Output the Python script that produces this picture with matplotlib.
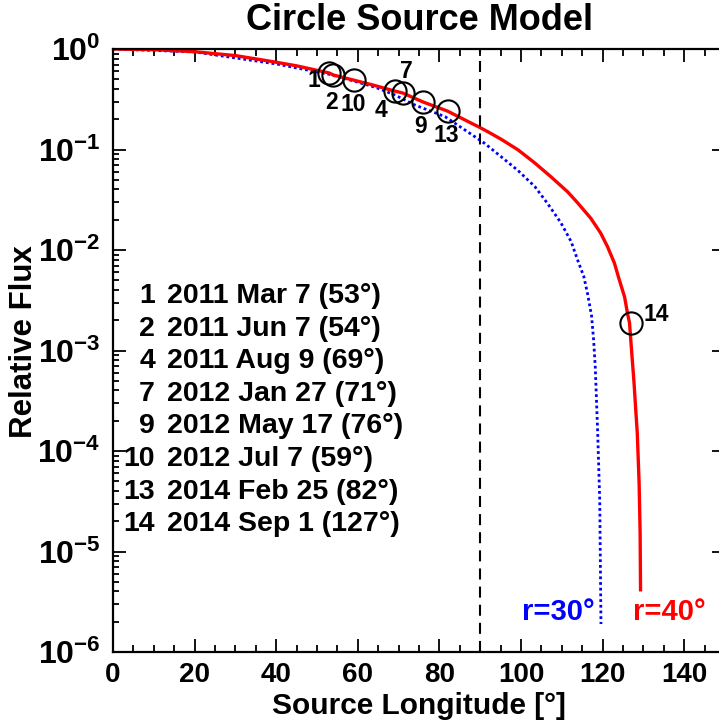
import math
import matplotlib
matplotlib.use("Agg")
import matplotlib.pyplot as plt
from matplotlib.ticker import MultipleLocator, FixedLocator, FuncFormatter, NullFormatter

# ---------------- data ----------------
red_lon = [0, 10, 20, 30, 39, 45, 53, 54, 59, 64, 69, 71, 76, 82, 87.1, 89.5, 91.9,
           95.2, 99.3, 103.3, 107.3, 111.4, 113.9, 117.1, 119.5, 121.2, 122.9, 124.0,
           125.4, 126.1, 126.6, 127.15, 127.7, 128.1, 128.5, 128.95, 129.2, 129.3]
red_flux = [1.0, 0.985, 0.94, 0.86, 0.75, 0.68, 0.577, 0.551, 0.49, 0.435, 0.382,
            0.365, 0.297, 0.241, 0.189, 0.169, 0.150, 0.126, 0.099, 0.0739, 0.0537,
            0.038, 0.0294, 0.0207, 0.0148, 0.0108, 0.0074, 0.0052, 0.0034, 0.00234,
            0.00188, 9.4e-4, 4.8e-4, 2.66e-4, 1.5e-4, 4.8e-5, 1.5e-5, 4.0e-6]

blue_lon = [0, 20, 40, 53, 59, 64.3, 69, 74, 81.4, 86.3, 91.1, 95.1, 99.3, 103.4,
            106.6, 109.8, 112.3, 113.9, 115.4, 116.3, 117.3, 117.8, 118.2, 118.8,
            119.3, 119.6]
blue_flux = [1.0, 0.935, 0.71, 0.56, 0.48, 0.416, 0.35, 0.277, 0.212, 0.156, 0.115,
             0.085, 0.0616, 0.0427, 0.0287, 0.0186, 0.0121, 0.0079, 0.00543, 0.0037,
             0.0022, 1.27e-3, 6.9e-4, 1.5e-4, 3.2e-5, 1.9e-6]

event_ids = [1, 2, 4, 7, 9, 10, 13, 14]
event_dates = ["2011 Mar 7", "2011 Jun 7", "2011 Aug 9", "2012 Jan 27",
               "2012 May 17", "2012 Jul 7", "2014 Feb 25", "2014 Sep 1"]
event_lon = [53, 54, 69, 71, 76, 59, 82, 127]
event_flux = [0.577, 0.551, 0.382, 0.365, 0.297, 0.49, 0.241, 0.00188]

limb_lon = 90
radius_labels = ["r=30\u00b0", "r=40\u00b0"]
y_exponents = [-6, -5, -4, -3, -2, -1, 0]

# label offsets around circles (pixels, +y up)
label_offsets = {1: (-15, -7), 2: (-2, -27), 4: (-14, -19), 7: (4, 21),
                 9: (-3, -25), 10: (0, -24), 13: (-1, -24), 14: (25, 8)}

# ---------------- style ----------------
FONT = "Liberation Sans"
plt.rcParams["font.family"] = [FONT, "DejaVu Sans"]
plt.rcParams["font.weight"] = "bold"
plt.rcParams["mathtext.fontset"] = "custom"
plt.rcParams["mathtext.rm"] = FONT + ":bold"
plt.rcParams["mathtext.bf"] = FONT + ":bold"
plt.rcParams["mathtext.it"] = FONT + ":bold"

W, H = 719, 725
fig = plt.figure(figsize=(W / 100, H / 100), dpi=100)
ax = fig.add_axes([113 / W, 73 / H, (725 - 113) / W, (652 - 49) / H])

px = 0.72  # points per pixel

ax.plot(blue_lon, blue_flux, color="#0000ff", lw=2.0, linestyle=(0, (1, 1.05)))
ax.plot(red_lon, red_flux, color="#ff0000", lw=2.4, solid_capstyle="butt",
        solid_joinstyle="round")
ax.axvline(limb_lon, color="black", lw=1.5, linestyle=(0, (5.3, 3.4)))
ax.plot(event_lon, event_flux, linestyle="none", marker="o", markersize=16,
        markerfacecolor="none", markeredgecolor="black", markeredgewidth=1.5)

for eid, lon, fl in zip(event_ids, event_lon, event_flux):
    dx, dy = label_offsets[eid]
    ax.annotate(str(eid), (lon, fl), xytext=(dx * px, dy * px), textcoords="offset points",
                ha="center", va="center", fontsize=16.5, fontweight="bold")

# event list
y0 = (652 - 296) / (652 - 49)
dy_line = 32.6 / (652 - 49)
for i, (eid, date, lon) in enumerate(zip(event_ids, event_dates, event_lon)):
    yy = y0 - i * dy_line
    ax.text((155 - 113) / 612, yy, str(eid), transform=ax.transAxes, ha="right",
            va="center", fontsize=20.5, fontweight="bold")
    ax.text((167 - 113) / 612, yy, f"{date} ({lon}\u00b0)", transform=ax.transAxes,
            ha="left", va="center", fontsize=20.5, fontweight="bold")

ax.text(118.0, 2.1e-6, radius_labels[0], color="#0000ff", ha="right", va="baseline",
        fontsize=21, fontweight="bold")
ax.text(127.4, 2.1e-6, radius_labels[1], color="#ff0000", ha="left", va="baseline",
        fontsize=21, fontweight="bold")

ax.set_yscale("log")
ax.set_xlim(0, 150)
ax.set_ylim(1e-6, 1.0)
ax.xaxis.set_major_locator(MultipleLocator(20))
ax.xaxis.set_minor_locator(MultipleLocator(5))
major_y = [10.0 ** e for e in y_exponents]
minor_y = [m * 10.0 ** e for e in y_exponents[:-1] for m in range(2, 10)]
ax.yaxis.set_major_locator(FixedLocator(major_y))
ax.yaxis.set_minor_locator(FixedLocator(minor_y))
ax.yaxis.set_minor_formatter(NullFormatter())
ax.yaxis.set_major_formatter(FuncFormatter(lambda v, p: r"$\mathbf{10^{%d}}$" % round(math.log10(v))))
ax.xaxis.set_major_formatter(FuncFormatter(lambda v, p: "%d" % v))

ax.tick_params(which="both", direction="in", top=True, right=True, width=1.3)
ax.tick_params(which="major", length=9.5)
ax.tick_params(axis="x", which="minor", length=5)
ax.tick_params(axis="y", which="minor", length=4)
ax.tick_params(axis="x", pad=7, labelsize=20)
ax.tick_params(axis="y", pad=9, labelsize=23)
for s in ax.spines.values():
    s.set_linewidth(1.6)

ax.set_xlabel("Source Longitude [\u00b0]", fontsize=21.5, fontweight="bold", labelpad=3)
fig.text(24 / W, 1 - 342 / H, "Relative Flux", rotation=90, ha="center", va="center",
         fontsize=22.5, fontweight="bold")
fig.text(419 / W, 1 - 20 / H, "Circle Source Model", ha="center", va="center",
         fontsize=26, fontweight="bold")

fig.savefig("out.png", dpi=100)
